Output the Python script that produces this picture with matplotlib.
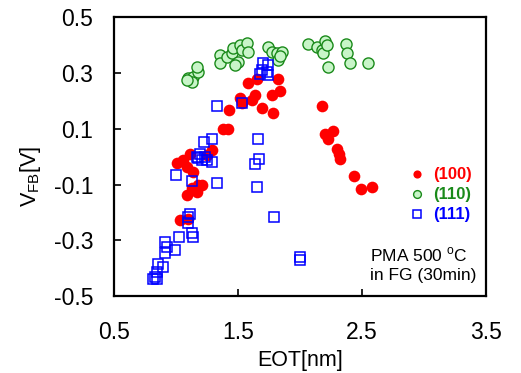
import numpy as np
import matplotlib
matplotlib.use("Agg")
import matplotlib.pyplot as plt

plt.rcParams["font.family"] = ["Liberation Sans", "DejaVu Sans"]

# (100) orientation - filled red circles
eot_100 = [1.825, 1.839, 1.772, 1.691, 1.785, 1.583, 1.651, 1.637, 1.610, 1.516,
           1.530, 1.430, 1.38, 1.42, 1.288, 1.248, 1.113, 1.059, 1.006, 1.140,
           1.180, 1.127, 1.086, 1.207, 1.032, 1.099, 1.167, 1.086,
           2.175, 2.202, 2.269, 2.228, 2.296, 2.323, 2.310, 2.435, 2.490, 2.578]
vfb_100 = [0.280, 0.236, 0.220, 0.173, 0.155, 0.265, 0.280, 0.220, 0.203, 0.209,
           0.191, 0.167, 0.100, 0.100, 0.023, 0.005, 0.011, -0.013, -0.024, -0.054,
           -0.102, -0.114, -0.138, -0.102, -0.228, -0.222, -0.126, -0.037,
           0.182, 0.083, 0.092, 0.065, 0.029, -0.009, 0.010, -0.069, -0.116, -0.108]

# (110) orientation - light green circles
eot_110 = [1.097, 1.137, 1.177, 1.169, 1.129, 1.089,
           1.355, 1.355, 1.411, 1.452, 1.460, 1.500, 1.516, 1.532, 1.573, 1.580, 1.476,
           1.742, 1.774, 1.815, 1.855, 1.823, 1.840,
           2.065, 2.137, 2.177, 2.202, 2.185, 2.218, 2.226, 2.371, 2.379, 2.403, 2.548]
vfb_110 = [0.281, 0.285, 0.303, 0.321, 0.267, 0.274,
           0.364, 0.335, 0.357, 0.371, 0.389, 0.339, 0.400, 0.382, 0.407, 0.375, 0.328,
           0.392, 0.375, 0.371, 0.375, 0.346, 0.360,
           0.403, 0.392, 0.382, 0.414, 0.371, 0.400, 0.321, 0.403, 0.371, 0.335, 0.335]

# (111) orientation - open blue squares
eot_111 = [1.704, 1.691, 1.744, 1.731, 1.744, 1.677, 1.328, 1.530, 1.664, 1.669,
           1.637, 1.656, 1.793, 2.000, 2.000, 1.288, 1.226, 1.194, 1.167, 1.207,
           1.248, 1.288, 1.328, 1.127, 1.000, 1.113, 1.099, 1.099, 1.127, 1.140,
           1.027, 0.992, 0.911, 0.925, 0.911, 0.898, 0.857, 0.844, 0.831, 0.817,
           0.844, 1.180, 1.230]
vfb_111 = [0.334, 0.310, 0.328, 0.304, 0.292, 0.298, 0.181, 0.193, 0.062, -0.009,
           -0.027, -0.108, -0.218, -0.359, -0.370, 0.062, 0.053, 0.011, -0.001, -0.013,
           -0.013, -0.019, -0.096, -0.087, -0.066, -0.204, -0.216, -0.237, -0.275, -0.287,
           -0.287, -0.335, -0.305, -0.325, -0.347, -0.395, -0.383, -0.413, -0.431, -0.437,
           -0.437, -0.005, 0.000]

labels = ["(100)", "(110)", "(111)"]
xticks = [0.5, 1.5, 2.5, 3.5]
yticks = [-0.5, -0.3, -0.1, 0.1, 0.3, 0.5]

fig = plt.figure(figsize=(5.21, 3.73), dpi=100)
ax = fig.add_axes([0.219, 0.206, 0.714, 0.748])

ax.plot(eot_110, vfb_110, "o", ms=8.0, mfc="#c8f5c8", mec="#1a8a1a", mew=1.0,
        label=labels[1], zorder=2)
ax.plot(eot_100, vfb_100, "o", ms=8.4, mfc="#ff0000", mec="#ff0000", mew=0,
        label=labels[0], zorder=3)
ax.plot(eot_111, vfb_111, "s", ms=7.6, mfc="none", mec="#0000ff", mew=1.1,
        label=labels[2], zorder=4)

ax.set_xlim(0.5, 3.5)
ax.set_ylim(-0.5, 0.5)
ax.set_xticks(xticks)
ax.set_yticks(yticks)
ax.set_xticklabels([f"{v:.1f}" for v in xticks])
ax.set_yticklabels([f"{v:.1f}" for v in yticks])
ax.tick_params(direction="in", length=5, width=1.2, labelsize=16.5, pad=18)
ax.tick_params(axis="y", pad=15)
for s in ax.spines.values():
    s.set_linewidth(1.6)

ax.set_xlabel("EOT[nm]", fontsize=15.5, labelpad=4)
ax.set_ylabel("V$_{\\mathregular{FB}}$[V]", fontsize=15.5)
ax.yaxis.set_label_coords(-0.19, 0.43)

h, l = ax.get_legend_handles_labels()
order = [1, 0, 2]
leg = ax.legend([h[i] for i in order], [l[i] for i in order],
                loc="upper left", bbox_to_anchor=(0.755, 0.515), frameon=False,
                markerscale=0.7, handlelength=0.8, handletextpad=0.6,
                labelspacing=0.3, prop={"size": 12, "weight": "bold"},
                labelcolor=["#ff0000", "#1a8a1a", "#0000ff"])

ax.text(0.688, 0.18, "PMA 500 $^{\\mathregular{o}}$C\nin FG (30min)",
        transform=ax.transAxes, fontsize=12.5, va="top", ha="left", linespacing=1.25)

fig.savefig("out.png", dpi=100)
